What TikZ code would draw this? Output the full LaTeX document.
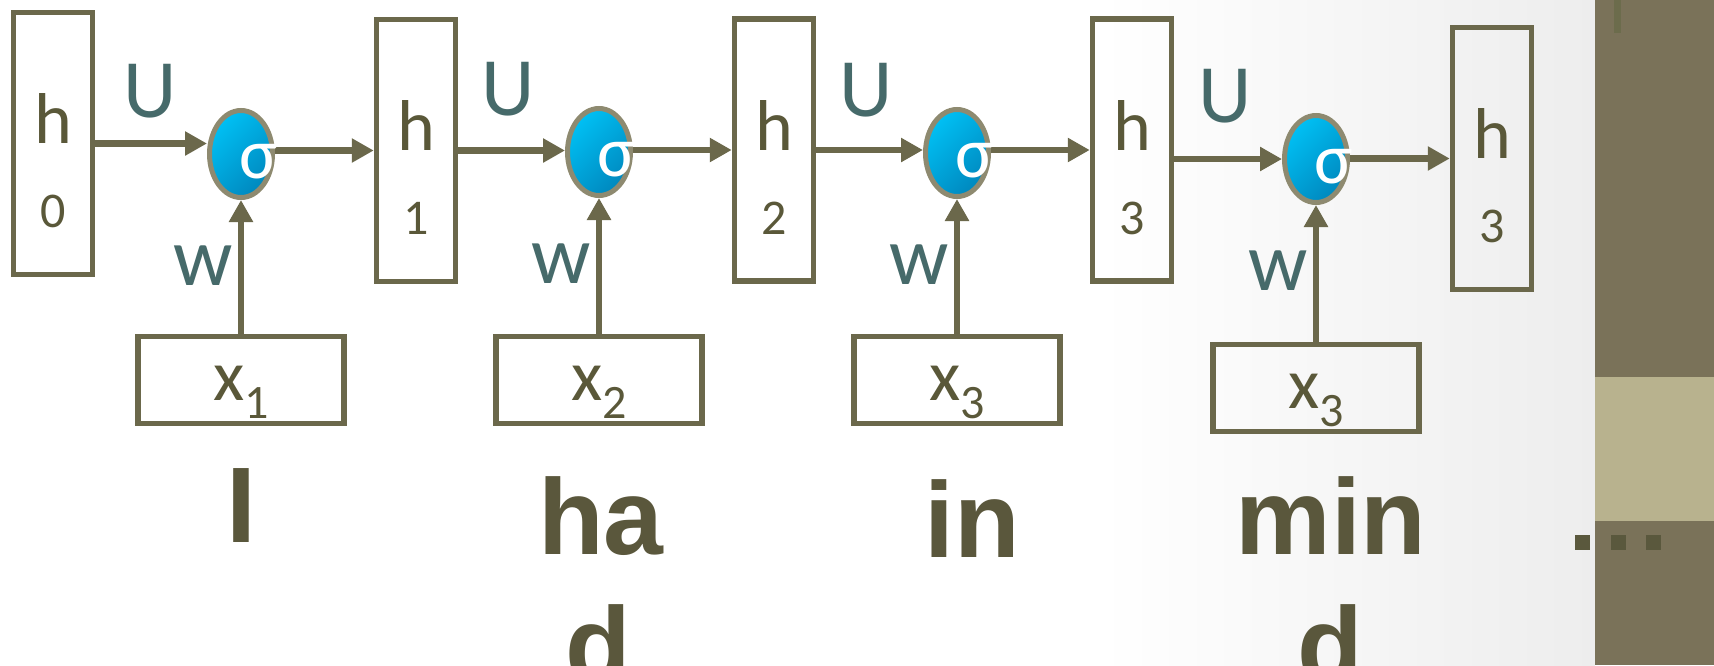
\documentclass[tikz,border=0pt]{standalone}
\usepackage{fontspec}
\setmainfont{Carlito}
\newfontfamily\wordfont{Liberation Sans}
\usetikzlibrary{arrows.meta,shapes.geometric}

\definecolor{boxline}{HTML}{6B684B}
\definecolor{ringline}{HTML}{8E8A70}
\definecolor{labelink}{HTML}{5A5839}
\definecolor{weightink}{HTML}{466A6A}
\definecolor{wordink}{HTML}{5A573C}
\definecolor{cyanhi}{HTML}{00C0F4}
\definecolor{cyanlo}{HTML}{0088BE}
\definecolor{panelbg}{HTML}{7A7259}
\definecolor{panelband}{HTML}{B8B28E}
\definecolor{panelmark}{HTML}{6C6C4C}
\definecolor{dotink}{HTML}{5A583D}
\definecolor{haze}{HTML}{EDEDED}

\tikzset{
  hbox/.style={draw=boxline, line width=5.5pt, minimum width=79pt, minimum height=262pt, inner sep=0pt},
  xbox/.style={draw=boxline, line width=5.5pt, minimum width=206pt, minimum height=87pt, inner sep=0pt},
  unit/.style={ellipse, draw=ringline, line width=5pt, minimum width=63pt, minimum height=87pt,
    inner sep=0pt, top color=cyanhi, bottom color=cyanlo, shading angle=45},
  arr/.style={draw=boxline, line width=6.5pt, -{Triangle[length=22pt,width=23pt]}},
  hname/.style={text=labelink, inner sep=0pt, anchor=base, font=\fontsize{72}{72}\selectfont},
  hidx/.style={text=labelink, inner sep=0pt, anchor=base, font=\fontsize{50}{50}\selectfont},
  xname/.style={text=labelink, inner sep=0pt, anchor=base, font=\fontsize{72}{72}\selectfont},
  wlabel/.style={text=weightink, inner sep=0pt, anchor=base, font=\fontsize{83}{83}\selectfont},
  sig/.style={text=white, inner sep=0pt, anchor=base, font=\fontsize{72}{72}\selectfont},
  word/.style={text=wordink, inner sep=0pt, anchor=base, font=\wordfont\bfseries\fontsize{107.5}{128}\selectfont},
}
% lowered index after an input name
\newcommand{\xsub}[1]{{\fontsize{48}{48}\selectfont\raisebox{-18pt}{#1}}}

\begin{document}
\begin{tikzpicture}[x=1pt,y=-1pt]
\useasboundingbox (0,0) rectangle (1714,665);
% background
\fill[white] (0,0) rectangle (1714,665);
\shade[left color=white, right color=haze] (1100,0) rectangle (1595,665);
% side panel
\fill[panelbg] (1595,0) rectangle (1714,665);
\fill[panelband] (1595,377) rectangle (1714,521);
\fill[panelmark] (1614,0) rectangle (1621,33);
\foreach \px in {1575,1611,1646} \fill[dotink] (\px,535) rectangle ++(15,15);

% hidden states
\node[hbox] (h0) at (53,143.5) {};
\node[hbox] (h1) at (416,150.5) {};
\node[hbox] (h2) at (774,150) {};
\node[hbox] (h3) at (1132,150) {};
\node[hbox] (h4) at (1492,158.5) {};
% activation units
\node[unit] (s1) at (241,154) {};
\node[unit] (s2) at (599,152) {};
\node[unit] (s3) at (957,153) {};
\node[unit] (s4) at (1316,159) {};
% inputs
\node[xbox] (x1) at (241,380) {};
\node[xbox] (x2) at (599,380) {};
\node[xbox] (x3) at (957,380) {};
\node[xbox] (x4) at (1316,388) {};

% recurrent connections
\draw[arr] (h0.east) -- (h0.east -| s1.west);
\draw[arr] (s1.east |- h1.west) -- (h1.west);
\draw[arr] (h1.east) -- (h1.east -| s2.west);
\draw[arr] (s2.east |- h2.west) -- (h2.west);
\draw[arr] (h2.east) -- (h2.east -| s3.west);
\draw[arr] (s3.east |- h3.west) -- (h3.west);
\draw[arr] (s4.west -| h3.east) -- (s4.west);
\draw[arr] (s4.east |- h4.west) -- (h4.west);

% state labels
\foreach \n/\d in {h0/0,h1/1,h2/2,h3/3,h4/3} {
  \node[hname] (\n-name) at (\n.center) {h};
  \node[hidx] (\n-idx) at ([yshift=-84pt]\n.center) {\d};
}
% inputs, weights and activations
\foreach \s/\xb/\d in {s1/x1/1,s2/x2/2,s3/x3/3,s4/x4/3} {
  \draw[arr] (\xb.north) -- (\s.south);
  \node[wlabel] (\s-u) at ([xshift=-91pt,yshift=37pt]\s.center) {U};
  \node[wlabel] (\s-w) at ([xshift=-38pt,yshift=-131pt]\s.center) {w};
  \node[sig] (\s-sig) at ([xshift=18pt,yshift=-24pt]\s.center) {σ};
  \node[xname] (\xb-name) at ([yshift=-20pt]\xb.center) {x\xsub{\d}};
}

% words
\node[word] (w1) at (241,542) {I};
\node[word] (w2a) at (601,554) {ha};
\node[word] (w2b) at (598,682) {d};
\node[word] (w3) at (972,557) {in};
\node[word] (w4a) at (1331,554) {min};
\node[word] (w4b) at (1330,682) {d};
\end{tikzpicture}
\end{document}
